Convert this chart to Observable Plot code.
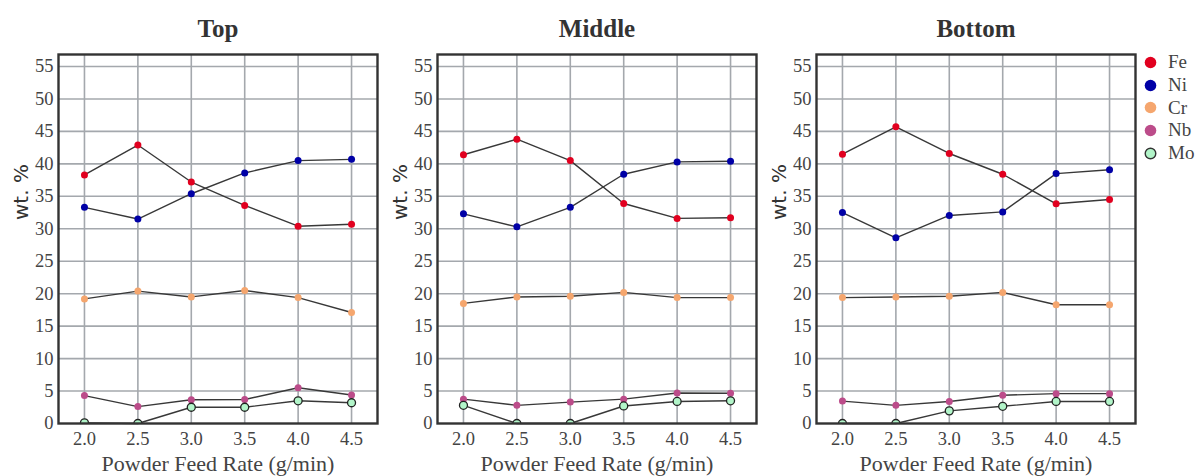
<!DOCTYPE html>
<html>
<head>
<meta charset="utf-8">
<script src="https://cdn.jsdelivr.net/npm/d3@7"></script>
<script src="https://cdn.jsdelivr.net/npm/@observablehq/plot@0.6"></script>
<style>
  html, body { margin: 0; padding: 0; background: #fff; }
  #wrap { position: relative; width: 1198px; height: 476px; overflow: hidden; }
  .panel { position: absolute; top: 0; }
  .panel svg text { font-family: "Liberation Serif", serif; }
  .panel svg text.sans { font-family: "DejaVu Sans", sans-serif; }
  #legend { position: absolute; left: 1144px; top: 51px; font-family: "Liberation Serif", serif; font-size: 19px; color: #444; }
  #legend .item { display: flex; align-items: center; height: 22.7px; }
  #legend svg { margin-right: 11px; }
</style>
</head>
<body>
<div id="wrap"></div>
<script>
const rates = [2.0, 2.5, 3.0, 3.5, 4.0, 4.5];
const yTicks = [0, 5, 10, 15, 20, 25, 30, 35, 40, 45, 50, 55];
const elements = ["Fe", "Ni", "Cr", "Nb", "Mo"];
const elementColors = ["#e1001f", "#0000a6", "#f5a66e", "#bc4c8a", "#b2f5c9"];
const panels = ["Top", "Middle", "Bottom"];

// Top
const topFe = [38.3, 42.9, 37.2, 33.6, 30.4, 30.7];
const topNi = [33.3, 31.5, 35.4, 38.6, 40.5, 40.7];
const topCr = [19.2, 20.4, 19.5, 20.5, 19.4, 17.1];
const topNb = [4.3, 2.6, 3.65, 3.7, 5.5, 4.4];
const topMo = [0.1, 0.0, 2.5, 2.5, 3.5, 3.2];
// Middle
const midFe = [41.4, 43.8, 40.5, 33.9, 31.6, 31.7];
const midNi = [32.3, 30.3, 33.3, 38.4, 40.3, 40.4];
const midCr = [18.5, 19.5, 19.6, 20.2, 19.4, 19.4];
const midNb = [3.75, 2.8, 3.3, 3.75, 4.7, 4.65];
const midMo = [2.8, 0.0, 0.0, 2.7, 3.4, 3.5];
// Bottom
const botFe = [41.5, 45.7, 41.6, 38.4, 33.85, 34.5];
const botNi = [32.5, 28.6, 32.05, 32.6, 38.5, 39.1];
const botCr = [19.4, 19.5, 19.6, 20.2, 18.3, 18.3];
const botNb = [3.45, 2.8, 3.4, 4.35, 4.6, 4.6];
const botMo = [0.0, 0.0, 1.95, 2.65, 3.4, 3.4];

const panelSeries = [
  [topFe, topNi, topCr, topNb, topMo],
  [midFe, midNi, midCr, midNb, midMo],
  [botFe, botNi, botCr, botNb, botMo]
];

const wrap = document.getElementById("wrap");

panels.forEach((name, pi) => {
  const rows = [];
  panelSeries[pi].forEach((vals, ei) => {
    vals.forEach((v, i) => rows.push({panel: name, element: elements[ei], rate: rates[i], value: v}));
  });
  const filled = rows.filter(d => d.element !== "Mo");
  const mo = rows.filter(d => d.element === "Mo");

  const chart = Plot.plot({
    width: 379,
    height: 476,
    marginLeft: 58,
    marginRight: 2,
    marginTop: 54,
    marginBottom: 53,
    style: {background: "transparent", color: "#444"},
    x: {domain: [1.757, 4.743], axis: null},
    y: {domain: [0, 56.85], axis: null},
    color: {domain: elements, range: elementColors},
    marks: [
      Plot.ruleX(rates, {stroke: "#a4a8ad", strokeWidth: 1.6}),
      Plot.ruleY(yTicks.filter(t => t > 0), {stroke: "#a4a8ad", strokeWidth: 1.6}),
      Plot.axisX({ticks: rates, tickFormat: d3.format(".1f"), tickSize: 0, tickPadding: 8, fontSize: 18.5, fill: "#444", label: null}),
      Plot.axisY({ticks: yTicks, tickSize: 0, tickPadding: 5, fontSize: 18.5, fill: "#444", label: null}),
      Plot.line(rows, {x: "rate", y: "value", z: "element", stroke: "#383838", strokeWidth: 1.4}),
      Plot.dot(filled, {x: "rate", y: "value", fill: "element", r: 3.5, clip: true}),
      Plot.dot(mo, {x: "rate", y: "value", fill: "element", stroke: "#222", strokeWidth: 1.3, r: 4, clip: true}),
      Plot.frame({stroke: "#333", strokeWidth: 2.4}),
      Plot.text([name], {frameAnchor: "top", lineAnchor: "middle", dy: -26, fontSize: 25, fontWeight: "bold", fill: "#333"}),
      Plot.text(["Powder Feed Rate (g/min)"], {frameAnchor: "bottom", lineAnchor: "middle", dy: 40, fontSize: 22, fill: "#444"}),
      Plot.text(["wt. %"], {frameAnchor: "left", lineAnchor: "middle", dx: -37, dy: -19, rotate: -90, fontSize: 20, fill: "#333", className: "sans"})
    ]
  });
  const div = document.createElement("div");
  div.className = "panel";
  div.style.left = (pi * 379) + "px";
  div.appendChild(chart);
  wrap.appendChild(div);
});

// mark the y-label as sans-serif
document.querySelectorAll(".panel svg g.sans text").forEach(t => t.classList.add("sans"));

// legend
const legend = document.createElement("div");
legend.id = "legend";
elements.forEach((el, i) => {
  const item = document.createElement("div");
  item.className = "item";
  const stroke = el === "Mo" ? ' stroke="#333" stroke-width="1.4"' : "";
  item.innerHTML = `<svg width="13" height="13"><circle cx="6.5" cy="6.5" r="${el === "Mo" ? 5.3 : 5.8}" fill="${elementColors[i]}"${stroke}/></svg><span>${el}</span>`;
  legend.appendChild(item);
});
wrap.appendChild(legend);
</script>
</body>
</html>
